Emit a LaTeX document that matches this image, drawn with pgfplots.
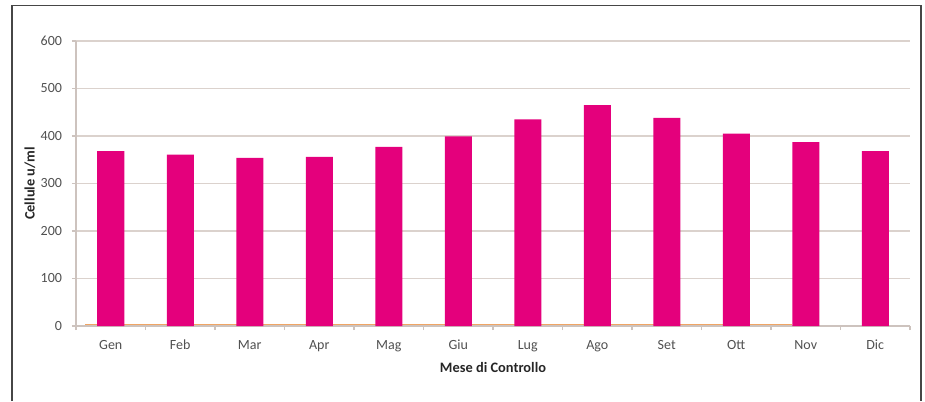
\documentclass[border=0pt]{standalone}
\usepackage{pgfplots}
\pgfplotsset{compat=1.18}
\usepackage{fontspec}
\setmainfont{Carlito}
\definecolor{barc}{RGB}{228,0,124}
\definecolor{gridc}{RGB}{219,210,205}
\definecolor{axc}{RGB}{205,195,190}
\definecolor{linec}{RGB}{240,165,100}
\definecolor{txt}{RGB}{80,80,80}
\definecolor{frame}{RGB}{70,70,70}
\begin{document}
\begin{tikzpicture}
\useasboundingbox (0pt,0pt) rectangle (693.75pt,300.75pt);
\draw[frame, line width=1.1pt] (9pt,0pt) -- (9pt,296.6pt) -- (690.75pt,296.6pt) -- (690.75pt,0pt);
\begin{axis}[at={(57pt,56.25pt)}, anchor=south west, scale only axis,
  width=625.5pt, height=213.75pt,
  xmin=-0.5, xmax=11.5, ymin=0, ymax=600,
  axis x line*=bottom, axis y line*=left,
  axis line style={axc, line width=0.8pt},
  ytick={0,100,...,600}, ymajorgrids, grid style={gridc, line width=0.8pt},
  xtick={0,...,11},
  xticklabels={Gen,Feb,Mar,Apr,Mag,Giu,Lug,Ago,Set,Ott,Nov,Dic},
  minor xtick={-0.5,0.5,...,11.5},
  major x tick style={draw=none},
  minor tick length=3pt, major tick length=3pt,
  tick align=outside, tick style={axc, line width=0.8pt},
  /pgf/number format/assume math mode=true,
  ticklabel style={font=\fontsize{10.5}{12}\selectfont, text=txt},
  yticklabel style={xshift=-4pt},
  xticklabel style={yshift=-4pt},
  xlabel={\textbf{Mese di Controllo}},
  ylabel={\textbf{Cellule u/ml}},
  label style={font=\fontsize{10.8}{12}\selectfont, text=black!85},
  xlabel style={at={(axis description cs:0.5,-0.147)}, anchor=center},
  ylabel style={at={(axis description cs:-0.0552,0.5)}, anchor=center},
  clip=false,
]
\addplot[linec, line width=0.9pt] coordinates {(-0.37,3) (9.8,3)};
\addplot[ybar, bar width=20.25pt, fill=barc, draw=none] coordinates {
(0,368) (1,361) (2,354) (3,356) (4,377) (5,399) (6,435) (7,465) (8,438) (9,405) (10,387) (11,368)};
\end{axis}
\end{tikzpicture}
\end{document}
